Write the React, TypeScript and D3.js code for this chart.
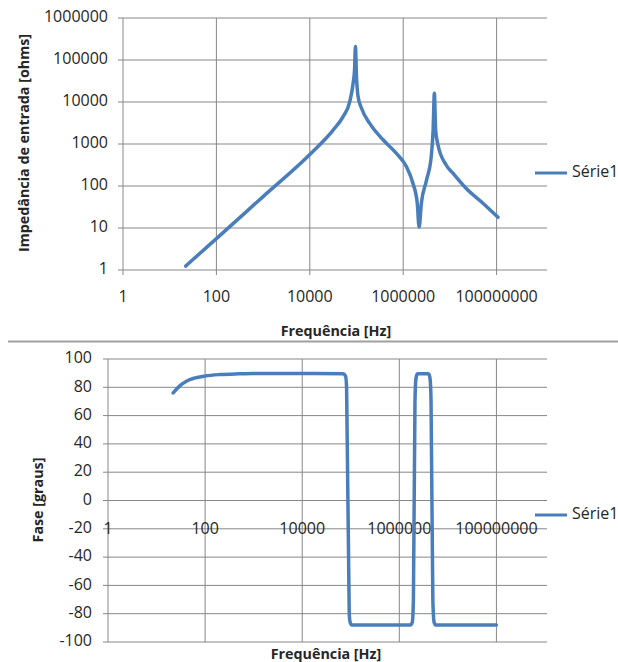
import React from 'react';
import * as d3 from 'd3';

// impedance curve: frequency [Hz] and |Z| [ohms]
const zFreq = [22, 100, 1000, 10000, 31600, 51600, 71800, 84500, 91000, 94800, 100000, 108000, 128000, 192000, 370000, 715000, 1170000, 1620000, 2000000, 2190000, 2450000, 3160000, 3980000, 4370000, 4650000, 4950000, 5500000, 8300000, 11700000, 22400000, 51000000, 107000000];
const zValue = [1.24, 5.6, 56, 560, 2140, 4470, 10200, 27500, 60000, 209000, 40000, 13500, 7100, 3090, 1260, 600, 290, 115, 39, 10.5, 39, 138, 500, 2140, 16200, 2140, 1000, 316, 200, 87, 39, 18];

// phase curve: frequency [Hz] and phase [graus]
const phFreq = [22, 30, 42, 60, 100, 200, 500, 1000, 10000, 70000, 78000, 82000, 93000, 97000, 105000, 1700000, 1850000, 1950000, 2100000, 2200000, 2350000, 4000000, 4300000, 4500000, 4900000, 5200000, 5600000, 100000000];
const phValue = [76, 81, 84.5, 86.5, 88, 89, 89.5, 89.7, 89.7, 89.5, 88, 80, -80, -86, -88, -88, -86, -70, 70, 86, 89.5, 89.5, 86, 70, -70, -86, -88, -88];

const xTicks = [1, 100, 10000, 1000000, 100000000];
const zTicks = [1, 10, 100, 1000, 10000, 100000, 1000000];
const phTicks = [-100, -80, -60, -40, -20, 0, 20, 40, 60, 80, 100];

const seriesName = 'Série1';
const xTitle = 'Frequência [Hz]';
const zTitle = 'Impedância de entrada [ohms]';
const phTitle = 'Fase [graus]';

const blue = '#4a7ebb';
const grid = '#878787';
const txt = '#262626';
const font = '"Open Sans", sans-serif';
const tickSize = 16;
const titleSize = 14.3;

export default function App() {
  // top chart
  const x1 = d3.scaleLog().domain([1, 1.2e9]).range([123, 547]);
  const y1 = d3.scaleLog().domain([1, 1e6]).range([270, 18]);
  // bottom chart
  const x2 = d3.scaleLog().domain([1, 1.1e9]).range([108, 547]);
  const y2 = d3.scaleLinear().domain([-100, 100]).range([642, 359]);

  const zLine = d3
    .line<number>()
    .x((d, i) => x1(zFreq[i]))
    .y((d) => y1(d))
    .curve(d3.curveMonotoneX)(zValue);
  const phLine = d3
    .line<number>()
    .x((d, i) => x2(phFreq[i]))
    .y((d) => y2(d))
    .curve(d3.curveMonotoneX)(phValue);

  const fmt = (v: number) => String(v);

  return (
    <div style={{ position: 'absolute', left: 0, top: 0 }}>
      <svg width={618} height={662} style={{ display: 'block', background: '#fff' }} fontFamily={font}>
        {/* ---------- impedance ---------- */}
        <g>
          {zTicks.map((t) => (
            <g key={t}>
              <line x1={118} x2={547} y1={y1(t)} y2={y1(t)} stroke={grid} />
              <text x={108} y={y1(t)} textAnchor="end" dominantBaseline="middle" fontSize={tickSize} fill={txt}>
                {fmt(t)}
              </text>
            </g>
          ))}
          {xTicks.map((t) => (
            <g key={t}>
              <line x1={x1(t)} x2={x1(t)} y1={18} y2={275} stroke={grid} />
              <text x={x1(t)} y={298} textAnchor="middle" dominantBaseline="middle" fontSize={tickSize} fill={txt}>
                {fmt(t)}
              </text>
            </g>
          ))}
          <path d={zLine ?? ''} fill="none" stroke={blue} strokeWidth={3.5} strokeLinejoin="round" strokeLinecap="round" />
          <text x={336} y={332} textAnchor="middle" dominantBaseline="middle" fontSize={titleSize} fontWeight="bold" fill={txt}>
            {xTitle}
          </text>
          <text transform="translate(25,143) rotate(-90)" textAnchor="middle" dominantBaseline="middle" fontSize={titleSize} fontWeight="bold" fill={txt}>
            {zTitle}
          </text>
          <line x1={535} x2={567} y1={173} y2={173} stroke={blue} strokeWidth={3} />
          <text x={572} y={173} dominantBaseline="middle" fontSize={tickSize} fill={txt}>
            {seriesName}
          </text>
        </g>

        <line x1={8} x2={618} y1={341.5} y2={341.5} stroke="#a0a0a0" strokeWidth={2} />

        {/* ---------- phase ---------- */}
        <g>
          {phTicks.map((t) => (
            <g key={t}>
              <line x1={103} x2={547} y1={y2(t)} y2={y2(t)} stroke={grid} />
              <text x={92} y={y2(t)} textAnchor="end" dominantBaseline="middle" fontSize={tickSize} fill={txt}>
                {fmt(t)}
              </text>
            </g>
          ))}
          {xTicks.map((t) => (
            <g key={t}>
              <line x1={x2(t)} x2={x2(t)} y1={359} y2={642} stroke={grid} />
              <text x={x2(t)} y={y2(0) + 29} textAnchor="middle" dominantBaseline="middle" fontSize={tickSize} fill={txt}>
                {fmt(t)}
              </text>
            </g>
          ))}
          <path d={phLine ?? ''} fill="none" stroke={blue} strokeWidth={3.5} strokeLinejoin="round" strokeLinecap="round" />
          <text x={326} y={655} textAnchor="middle" dominantBaseline="middle" fontSize={titleSize} fontWeight="bold" fill={txt}>
            {xTitle}
          </text>
          <text transform="translate(39,500) rotate(-90)" textAnchor="middle" dominantBaseline="middle" fontSize={titleSize} fontWeight="bold" fill={txt}>
            {phTitle}
          </text>
          <line x1={535} x2={567} y1={515} y2={515} stroke={blue} strokeWidth={3} />
          <text x={572} y={515} dominantBaseline="middle" fontSize={tickSize} fill={txt}>
            {seriesName}
          </text>
        </g>
      </svg>
    </div>
  );
}
